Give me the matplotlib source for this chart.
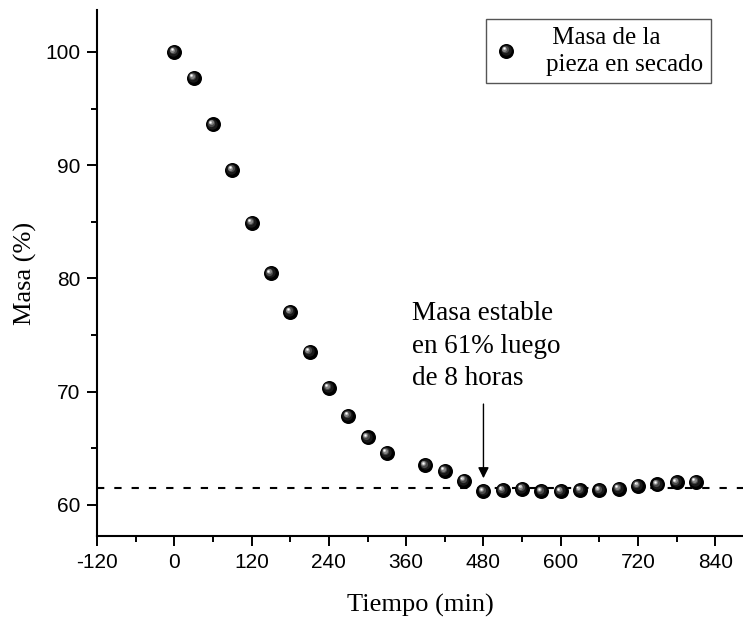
import matplotlib
matplotlib.use("Agg")
import matplotlib.pyplot as plt
import matplotlib.transforms as mtransforms
from matplotlib.legend_handler import HandlerBase
from matplotlib.lines import Line2D
from matplotlib.ticker import MultipleLocator

# Drying curve: mass of the piece (%) vs time (min)
tiempo = [0, 30, 60, 90, 120, 150, 180, 210, 240, 270, 300, 330,
          390, 420, 450, 480, 510, 540, 570, 600, 630, 660, 690,
          720, 750, 780, 810]
masa = [100.0, 97.7, 93.6, 89.6, 84.9, 80.45, 77.05, 73.5, 70.35, 67.85,
        65.95, 64.6, 63.5, 63.0, 62.15, 61.2, 61.3, 61.4, 61.2, 61.2,
        61.3, 61.3, 61.4, 61.7, 61.8, 62.0, 62.05]
masa_estable = 61.5
x_ticks = [-120, 0, 120, 240, 360, 480, 600, 720, 840]
y_ticks = [60, 70, 80, 90, 100]

serif = ["Liberation Serif", "DejaVu Serif"]
sans = ["Liberation Sans", "DejaVu Sans"]

fig = plt.figure(figsize=(7.43, 6.18), dpi=100)
ax = fig.add_axes([0.1306, 0.1327, 0.8694, 0.8511])

# shaded-sphere marker: a black ball with a soft highlight toward the upper left
SPHERE_LAYERS = [
    (10.8, "#000000", 0.0, 0.0),
    (7.5, "#1a1a1a", -0.6, 0.6),
    (5.2, "#4a4a4a", -1.1, 1.1),
    (3.6, "#858585", -1.5, 1.5),
    (2.2, "#c8c8c8", -1.8, 1.8),
    (1.1, "#ffffff", -1.9, 1.9),
]


def draw_spheres(axis, xs, ys):
    for ms, col, dx, dy in SPHERE_LAYERS:
        tr = axis.transData + mtransforms.ScaledTranslation(
            dx / 72, dy / 72, fig.dpi_scale_trans)
        axis.plot(xs, ys, linestyle="none", marker="o", ms=ms,
                  markerfacecolor=col, markeredgewidth=0, transform=tr,
                  zorder=3, clip_on=False)


class SphereHandler(HandlerBase):
    def create_artists(self, legend, orig_handle, xdescent, ydescent,
                       width, height, fontsize, trans):
        cx = 0.5 * width - xdescent
        cy = 0.5 * height - ydescent
        arts = []
        for ms, col, dx, dy in SPHERE_LAYERS:
            t = trans + mtransforms.ScaledTranslation(
                dx / 72, dy / 72, fig.dpi_scale_trans)
            ln = Line2D([cx], [cy], linestyle="none", marker="o", ms=ms,
                        markerfacecolor=col, markeredgewidth=0)
            ln.set_transform(t)
            arts.append(ln)
        return arts


ax.axhline(masa_estable, color="black", lw=1.5, ls=(0, (3.5, 4.8)), zorder=2)
draw_spheres(ax, tiempo, masa)

ax.annotate("", xy=(480, 62.35), xytext=(480, 68.9),
            arrowprops=dict(arrowstyle="-|>", color="black", lw=1.0,
                            mutation_scale=16, shrinkA=0, shrinkB=0))
ax.text(369, 78.0, "Masa estable\nen 61% luego\nde 8 horas",
        ha="left", va="top", fontsize=19.5, family=serif,
        linespacing=1.4)

ax.set_xlim(-120, 883)
ax.set_ylim(57.25, 103.7)
ax.set_xticks(x_ticks)
ax.set_xticklabels([str(v) for v in x_ticks])
ax.set_yticks(y_ticks)
ax.xaxis.set_minor_locator(MultipleLocator(60))
ax.yaxis.set_minor_locator(MultipleLocator(5))
for side in ("top", "right"):
    ax.spines[side].set_visible(False)
for side in ("left", "bottom"):
    ax.spines[side].set_linewidth(1.5)
ax.tick_params(which="major", direction="out", length=7, width=1.4,
               labelsize=15, pad=5)
ax.tick_params(which="minor", direction="out", length=4, width=1.4)
for lab in ax.get_xticklabels() + ax.get_yticklabels():
    lab.set_family(sans)

ax.set_xlabel("Tiempo (min)", fontsize=19, family=serif, labelpad=16)
ax.set_ylabel("Masa (%)", fontsize=19, family=serif, labelpad=6)

handle = Line2D([], [], linestyle="none")
leg = ax.legend([handle], [" Masa de la\npieza en secado"],
                handler_map={Line2D: SphereHandler()},
                loc="upper right", bbox_to_anchor=(0.957, 0.969),
                bbox_transform=fig.transFigure,
                prop={"family": serif, "size": 18},
                frameon=True, fancybox=False, framealpha=1,
                handlelength=1.0, handletextpad=1.1, borderpad=0.3,
                borderaxespad=0)
leg.get_frame().set_edgecolor("#555555")
leg.get_frame().set_linewidth(1.0)
for t in leg.get_texts():
    t.set_linespacing(1.3)

fig.savefig("out.png", dpi=100)
